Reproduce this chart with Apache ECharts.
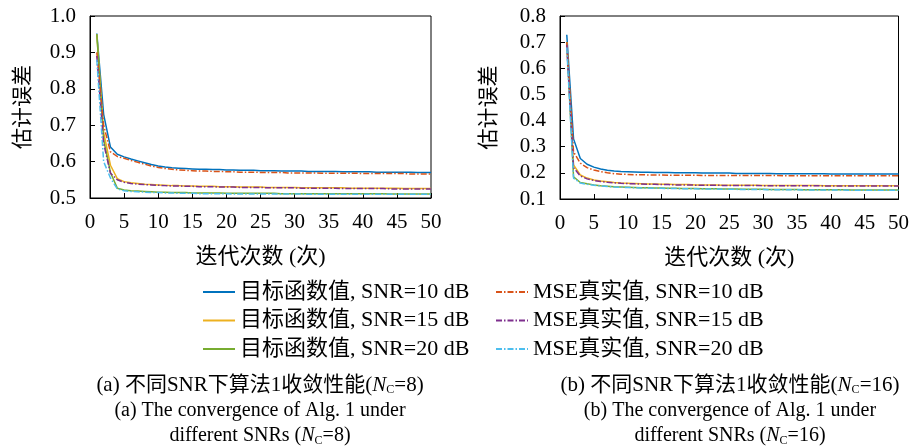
<!DOCTYPE html>
<html>
<head>
<meta charset="utf-8">
<script src="https://cdn.jsdelivr.net/npm/echarts@6/dist/echarts.min.js"></script>
<style>
    html, body { margin: 0; padding: 0; background: #fff; }
    #chart { width: 912px; height: 448px; }
</style>
</head>
<body>
<div id="chart"></div>
<script>
// iterations 1..50
const iters = [1, 2, 3, 4, 5, 6, 7, 8, 9, 10, 11, 12, 13, 14, 15, 16, 17, 18, 19, 20,
    21, 22, 23, 24, 25, 26, 27, 28, 29, 30, 31, 32, 33, 34, 35, 36, 37, 38, 39, 40,
    41, 42, 43, 44, 45, 46, 47, 48, 49, 50];

const names = ['目标函数值, SNR=10 dB', '目标函数值, SNR=15 dB', '目标函数值, SNR=20 dB',
    'MSE真实值, SNR=10 dB', 'MSE真实值, SNR=15 dB', 'MSE真实值, SNR=20 dB'];

// (a) N_C = 8
const objA10 = [0.952, 0.730, 0.640, 0.620, 0.613, 0.607, 0.602, 0.597, 0.592, 0.588,
    0.585, 0.583, 0.582, 0.581, 0.580, 0.579, 0.579, 0.578, 0.578, 0.577,
    0.577, 0.576, 0.576, 0.576, 0.575, 0.575, 0.575, 0.574, 0.574, 0.574,
    0.574, 0.573, 0.573, 0.573, 0.573, 0.573, 0.572, 0.572, 0.572, 0.572,
    0.572, 0.571, 0.571, 0.571, 0.571, 0.571, 0.571, 0.570, 0.570, 0.570];
const mseA10 = [0.900, 0.700, 0.627, 0.614, 0.609, 0.603, 0.598, 0.593, 0.588, 0.584,
    0.581, 0.579, 0.577, 0.576, 0.575, 0.574, 0.574, 0.573, 0.573, 0.572,
    0.572, 0.571, 0.571, 0.571, 0.570, 0.570, 0.570, 0.570, 0.569, 0.569,
    0.569, 0.569, 0.569, 0.568, 0.568, 0.568, 0.568, 0.568, 0.568, 0.567,
    0.567, 0.567, 0.567, 0.567, 0.567, 0.567, 0.566, 0.566, 0.566, 0.566];
const objA15 = [0.950, 0.680, 0.590, 0.553, 0.545, 0.542, 0.540, 0.538, 0.537, 0.536,
    0.535, 0.534, 0.534, 0.533, 0.533, 0.532, 0.532, 0.532, 0.531, 0.531,
    0.531, 0.530, 0.530, 0.530, 0.530, 0.529, 0.529, 0.529, 0.529, 0.529,
    0.528, 0.528, 0.528, 0.528, 0.528, 0.528, 0.528, 0.527, 0.527, 0.527,
    0.527, 0.527, 0.527, 0.527, 0.527, 0.526, 0.526, 0.526, 0.526, 0.526];
const mseA15 = [0.890, 0.650, 0.568, 0.550, 0.543, 0.540, 0.538, 0.537, 0.536, 0.535,
    0.534, 0.533, 0.533, 0.532, 0.532, 0.531, 0.531, 0.531, 0.530, 0.530,
    0.530, 0.529, 0.529, 0.529, 0.529, 0.528, 0.528, 0.528, 0.528, 0.528,
    0.527, 0.527, 0.527, 0.527, 0.527, 0.527, 0.526, 0.526, 0.526, 0.526,
    0.526, 0.526, 0.526, 0.525, 0.525, 0.525, 0.525, 0.525, 0.525, 0.525];
const objA20 = [0.950, 0.660, 0.570, 0.527, 0.522, 0.520, 0.519, 0.518, 0.517, 0.516,
    0.516, 0.515, 0.515, 0.515, 0.514, 0.514, 0.514, 0.514, 0.514, 0.513,
    0.513, 0.513, 0.513, 0.513, 0.513, 0.513, 0.513, 0.512, 0.512, 0.512,
    0.512, 0.512, 0.512, 0.512, 0.512, 0.512, 0.512, 0.512, 0.512, 0.512,
    0.512, 0.512, 0.512, 0.511, 0.511, 0.511, 0.511, 0.511, 0.511, 0.511];
const mseA20 = [0.880, 0.600, 0.555, 0.525, 0.520, 0.518, 0.517, 0.516, 0.515, 0.515,
    0.514, 0.514, 0.513, 0.513, 0.513, 0.512, 0.512, 0.512, 0.512, 0.512,
    0.511, 0.511, 0.511, 0.511, 0.511, 0.511, 0.511, 0.511, 0.511, 0.511,
    0.511, 0.510, 0.510, 0.510, 0.510, 0.510, 0.510, 0.510, 0.510, 0.510,
    0.510, 0.510, 0.510, 0.510, 0.510, 0.510, 0.510, 0.510, 0.510, 0.510];

// (b) N_C = 16
const objB10 = [0.728, 0.330, 0.255, 0.233, 0.222, 0.215, 0.210, 0.207, 0.205, 0.204,
    0.203, 0.202, 0.202, 0.201, 0.201, 0.201, 0.200, 0.200, 0.200, 0.200,
    0.199, 0.199, 0.199, 0.199, 0.199, 0.198, 0.198, 0.198, 0.198, 0.198,
    0.198, 0.197, 0.197, 0.197, 0.197, 0.197, 0.197, 0.197, 0.197, 0.196,
    0.196, 0.196, 0.196, 0.196, 0.196, 0.196, 0.196, 0.196, 0.196, 0.196];
const mseB10 = [0.700, 0.280, 0.237, 0.220, 0.211, 0.205, 0.200, 0.197, 0.195, 0.194,
    0.193, 0.193, 0.192, 0.192, 0.192, 0.191, 0.191, 0.191, 0.191, 0.191,
    0.190, 0.190, 0.190, 0.190, 0.190, 0.190, 0.190, 0.190, 0.190, 0.190,
    0.190, 0.190, 0.189, 0.189, 0.189, 0.189, 0.189, 0.189, 0.189, 0.189,
    0.189, 0.189, 0.189, 0.189, 0.189, 0.189, 0.189, 0.189, 0.189, 0.189];
const objB15 = [0.700, 0.230, 0.192, 0.180, 0.173, 0.169, 0.166, 0.163, 0.161, 0.160,
    0.159, 0.158, 0.157, 0.157, 0.156, 0.156, 0.155, 0.155, 0.155, 0.154,
    0.154, 0.154, 0.154, 0.153, 0.153, 0.153, 0.153, 0.153, 0.153, 0.152,
    0.152, 0.152, 0.152, 0.152, 0.152, 0.152, 0.152, 0.152, 0.151, 0.151,
    0.151, 0.151, 0.151, 0.151, 0.151, 0.151, 0.151, 0.151, 0.151, 0.151];
const mseB15 = [0.690, 0.220, 0.188, 0.177, 0.171, 0.167, 0.164, 0.162, 0.160, 0.159,
    0.158, 0.157, 0.156, 0.156, 0.155, 0.155, 0.154, 0.154, 0.154, 0.153,
    0.153, 0.153, 0.153, 0.152, 0.152, 0.152, 0.152, 0.152, 0.152, 0.151,
    0.151, 0.151, 0.151, 0.151, 0.151, 0.151, 0.151, 0.151, 0.150, 0.150,
    0.150, 0.150, 0.150, 0.150, 0.150, 0.150, 0.150, 0.150, 0.150, 0.150];
const objB20 = [0.700, 0.185, 0.163, 0.158, 0.154, 0.151, 0.149, 0.147, 0.146, 0.145,
    0.144, 0.143, 0.143, 0.142, 0.142, 0.141, 0.141, 0.140, 0.140, 0.140,
    0.139, 0.139, 0.139, 0.138, 0.138, 0.138, 0.137, 0.137, 0.137, 0.137,
    0.136, 0.136, 0.136, 0.136, 0.136, 0.135, 0.135, 0.135, 0.135, 0.135,
    0.135, 0.135, 0.134, 0.134, 0.134, 0.134, 0.134, 0.134, 0.134, 0.134];
const mseB20 = [0.680, 0.180, 0.161, 0.156, 0.153, 0.150, 0.148, 0.146, 0.145, 0.144,
    0.143, 0.142, 0.142, 0.141, 0.141, 0.140, 0.140, 0.139, 0.139, 0.139,
    0.138, 0.138, 0.138, 0.137, 0.137, 0.137, 0.136, 0.136, 0.136, 0.136,
    0.135, 0.135, 0.135, 0.135, 0.135, 0.134, 0.134, 0.134, 0.134, 0.134,
    0.134, 0.134, 0.133, 0.133, 0.133, 0.133, 0.133, 0.133, 0.133, 0.133];

const colors = ['#0072BD', '#EDB120', '#77AC30', '#D95319', '#7E2F8E', '#4DBEEE'];
const FONT = '"Liberation Serif", "Noto Sans CJK SC", serif';
const dashDot = [6, 2, 1.5, 2];

let chart = echarts.init(document.getElementById('chart'));

function pairs(ys) {
    return ys.map((y, i) => [iters[i], y]);
}

function makeSeries(setA, setB) {
    let out = [];
    [setA, setB].forEach((set, g) => {
        set.forEach((ys, k) => {
            out.push({
                name: names[k],
                type: 'line',
                xAxisIndex: g,
                yAxisIndex: g,
                data: pairs(ys),
                symbol: 'none',
                lineStyle: { color: colors[k], width: 1.5, type: k < 3 ? 'solid' : dashDot },
                itemStyle: { color: colors[k] },
                z: 2 + k
            });
        });
    });
    return out;
}

const groupA = [objA10, objA15, objA20, mseA10, mseA15, mseA20];
const groupB = [objB10, objB15, objB20, mseB10, mseB15, mseB20];

function xAxisFor(g) {
    return {
        type: 'value', gridIndex: g, min: 0, max: 50, interval: 5,
        name: '迭代次数 (次)', nameLocation: 'middle', nameGap: 48,
        nameTextStyle: { fontFamily: FONT, fontSize: 22, color: '#000' },
        axisLine: { show: true, lineStyle: { color: '#000', width: 1 } },
        axisTick: { show: true, inside: true, length: 5, lineStyle: { color: '#000' } },
        axisLabel: { color: '#000', fontFamily: FONT, fontSize: 21, margin: 14 },
        splitLine: { show: false }
    };
}

function yAxisFor(g, min, max, gap) {
    return {
        type: 'value', gridIndex: g, min: min, max: max, interval: 0.1,
        name: '估计误差', nameLocation: 'middle', nameGap: gap, nameRotate: 90,
        nameTextStyle: { fontFamily: FONT, fontSize: 21, color: '#000' },
        axisLine: { show: true, lineStyle: { color: '#000', width: 1 } },
        axisTick: { show: true, inside: true, length: 5, lineStyle: { color: '#000' } },
        axisLabel: {
            color: '#000', fontFamily: FONT, fontSize: 21, margin: 14,
            formatter: v => v.toFixed(1)
        },
        splitLine: { show: false }
    };
}

function capRich(size) {
    return {
        n: { fontFamily: FONT, fontSize: size, fontStyle: 'italic', color: '#000' },
        s: { fontFamily: FONT, fontSize: 12, color: '#000', padding: [10, 0, 0, 0] }
    };
}

function caption(x, y, text, size) {
    return {
        type: 'text', x: x, y: y,
        style: {
            text: text, fill: '#000', font: size + 'px ' + FONT,
            align: 'center', verticalAlign: 'middle', rich: capRich(size)
        }
    };
}

function legendCol(left, items, gap) {
    return {
        left: left, top: 281, orient: 'vertical', padding: 0,
        itemWidth: 32, itemHeight: 12, itemGap: 6.5, itemTextGap: gap,
        selectedMode: false, data: items,
        itemStyle: { opacity: 0, borderWidth: 0 },
        textStyle: { fontFamily: FONT, fontSize: 22, color: '#000' }
    };
}

const option = {
    animation: false,
    backgroundColor: '#fff',
    grid: [
        { left: 90, top: 16, width: 341, height: 182, show: true, borderColor: '#000', borderWidth: 1 },
        { left: 560, top: 16, width: 341, height: 183, show: true, borderColor: '#000', borderWidth: 1 }
    ],
    xAxis: [xAxisFor(0), xAxisFor(1)],
    yAxis: [yAxisFor(0, 0.5, 1.0, 56), yAxisFor(1, 0.1, 0.8, 60)],
    legend: [
        legendCol(202, names.slice(0, 3), 3),
        legendCol(495, names.slice(3), 2)
    ],
    graphic: [
        caption(260, 385, '(a) 不同SNR下算法1收敛性能({n|N}{s|C}=8)', 21),
        caption(260, 411, '(a) The convergence of Alg. 1 under', 20),
        caption(260, 436, 'different SNRs ({n|N}{s|C}=8)', 20),
        caption(730, 385, '(b) 不同SNR下算法1收敛性能({n|N}{s|C}=16)', 21),
        caption(730, 411, '(b) The convergence of Alg. 1 under', 20),
        caption(730, 436, 'different SNRs ({n|N}{s|C}=16)', 20)
    ],
    series: makeSeries(groupA, groupB)
};

chart.setOption(option);
window.onresize = () => chart.resize();
</script>
</body>
</html>
